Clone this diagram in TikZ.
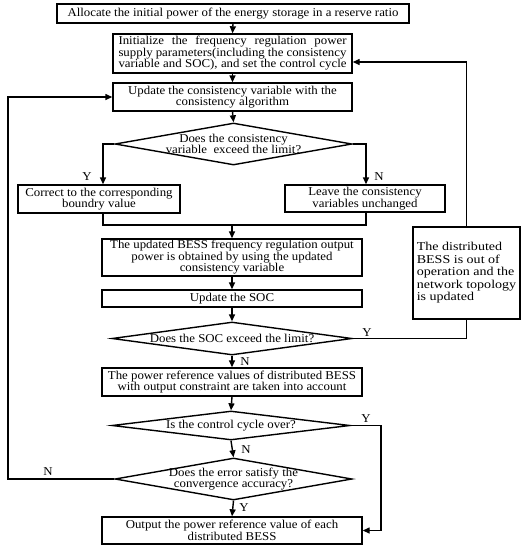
\documentclass[tikz,border=0pt]{standalone}
\usepackage{fontspec}
\setmainfont{Liberation Serif}[FakeStretch=1.07]
\newfontfamily\rboxfont{Liberation Serif}[FakeStretch=1.17]
\usetikzlibrary{shapes.geometric,arrows.meta,calc}
\begin{document}
\begin{tikzpicture}[x=1pt,y=-1pt, line width=1.4pt,
 box/.style={draw, rectangle, inner sep=0pt, align=center, font=\fontsize{12}{11.5}\selectfont},
 dia/.style={draw, diamond, inner sep=0pt},
 txt/.style={inner sep=0pt, align=center, font=\fontsize{12}{11.5}\selectfont},
 lab/.style={inner sep=0pt, font=\fontsize{12}{12}\selectfont},
 arr/.style={-{Triangle[length=7pt,width=6pt]}}
]
\useasboundingbox (0,0) rectangle (530,550);
\fill[white] (0,0) rectangle (530,550);

\node[box, minimum width=352pt, minimum height=19pt] (b1) at (233,13.5) {Allocate the initial power of the energy storage in a reserve ratio};
\node[box, minimum width=239pt, minimum height=39pt] (b2) at (232.5,53.5) {\makebox[228pt][s]{Initialize the frequency regulation power}\\\makebox[228pt][s]{supply parameters(including the consistency}\\\makebox[228pt][s]{variable and SOC), and set the control cycle}};
\node[box, minimum width=239pt, minimum height=28pt] (b3) at (232.5,97) {Update the consistency variable with the\\consistency algorithm};
\node[dia, minimum width=237pt, minimum height=42pt] (d1) at (233.5,144) {};
\node[txt] (t1) at (d1.center) {Does the consistency\\variable\ \ exceed the limit?};
\node[box, minimum width=162pt, minimum height=28pt] (bY) at (99,199) {Correct to the corresponding\\boundry value};
\node[box, minimum width=160pt, minimum height=27pt] (bN) at (365,198.5) {Leave the consistency\\variables unchanged};
\node[box, minimum width=260pt, minimum height=37pt] (b4) at (232,257.5) {The updated BESS frequency regulation output\\power is obtained by using the updated\\consistency variable};
\node[box, minimum width=260pt, minimum height=17pt] (b5) at (232,298.5) {Update the SOC};
\node[dia, minimum width=240pt, minimum height=33pt] (d2) at (232,338.5) {};
\node[txt] (t2) at (d2.center) {Does the SOC exceed the limit?};
\node[box, minimum width=260pt, minimum height=28pt] (b6) at (232,382) {The power reference values of distributed BESS\\with output constraint are taken into account};
\node[dia, minimum width=238pt, minimum height=29pt] (d3) at (231,425.5) {};
\node[txt] (t3) at (d3.center) {Is the control cycle over?};
\node[dia, minimum width=237pt, minimum height=42pt] (d4) at (233.5,479) {};
\node[txt] (t4) at (d4.center) {Does the error satisfy the\\convergence accuracy?};
\node[box, minimum width=260pt, minimum height=27pt] (b7) at (232,530.5) {Output the power reference value of each\\distributed BESS};
\node[draw, rectangle, inner sep=0pt, minimum width=107pt, minimum height=92pt, align=left, font=\rboxfont\fontsize{12}{12.5}\selectfont] (bR) at (466.5,273) {\begin{tabular}{@{}l@{}}The distributed\\BESS is out of\\operation and the\\network topology\\is updated\end{tabular}};

\coordinate (yx) at (103,0);
\coordinate (nx) at (366,0);
\coordinate (my) at (0,225);
\coordinate (m) at (232,225);
\coordinate (lx) at (8,0);
\coordinate (cx) at (381,0);

\draw[arr] (b1.south) -- (b2.north);
\draw[arr] (b2.south) -- (b3.north);
\draw[arr] (b3.south) -- (d1.north);
\draw[arr] (d1.west) -| (yx |- bY.north);
\draw[arr] (d1.east) -| (nx |- bN.north);
\draw (yx |- bY.south) -- (yx |- my) -- (nx |- my) -- (nx |- bN.south);
\draw[arr] (m) -- (b4.north);
\draw[arr] (b4.south) -- (b5.north);
\draw[arr] (b5.south) -- (d2.north);
\draw (d2.east) -| (bR.south);
\draw[arr] (bR.north) |- ($(b2.east)+(0,8.5)$);
\draw[arr] (d2.south) -- (b6.north);
\draw[arr] (b6.south) -- (d3.north);
\draw[arr] (d3.south) -- (d4.north);
\draw[arr] (d4.south) -- (b7.north);
\draw[arr] (d4.west) -- (lx |- d4.west) |- (b3.west);
\draw[arr] (d3.east) -| (cx |- b7.east) -- (b7.east);

\node[lab] (l1) at (87,177) {Y};
\node[lab] (l2) at (379,177) {N};
\node[lab] (l3) at (367,333) {Y};
\node[lab] (l4) at (245,362) {N};
\node[lab] (l5) at (366,419) {Y};
\node[lab] (l6) at (246,450) {N};
\node[lab] (l7) at (48,472) {N};
\node[lab] (l8) at (244,508) {Y};
\end{tikzpicture}
\end{document}
